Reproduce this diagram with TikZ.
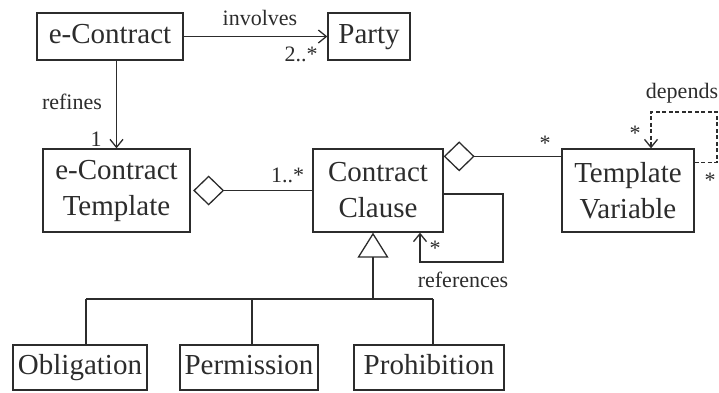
\documentclass[tikz,border=0pt]{standalone}
\usepackage{fontspec}
\setmainfont{Liberation Serif}
\usetikzlibrary{arrows.meta}
\definecolor{ink}{HTML}{2C2C2C}
\begin{document}
\begin{tikzpicture}[x=1pt,y=-1pt,color=ink,line width=1.3pt,
  cls/.style={draw,align=center,inner sep=0pt,
    font=\fontsize{29}{36}\selectfont},
  cls1/.style={cls,text height=20pt,text depth=6pt},
  lbl/.style={inner sep=0pt,font=\fontsize{22}{26}\selectfont},
  nav/.style={-{Straight Barb[length=8pt,width=13pt,line width=1.3pt]}},
  agg/.style={{Diamond[open,length=31pt,width=30pt,line width=1.3pt]}-},
  gen/.style={{Triangle[open,length=25pt,width=31pt,line width=1.3pt]}-},
  dep/.style={dash pattern=on 4pt off 2.5pt,line width=1.1pt}]
\useasboundingbox (0,0) rectangle (719,392);

% classes
\node[cls1,minimum width=146pt,minimum height=47pt] (ec)    at (110,36.5)  {e-Contract};
\node[cls1,minimum width=82pt, minimum height=47pt] (party) at (369,36.5)  {Party};
\node[cls,minimum width=147pt,minimum height=83pt] (ect)   at (116.5,190.5) {e-Contract\\Template};
\node[cls,minimum width=130pt,minimum height=83pt] (cc)    at (378,190.5) {Contract\\Clause};
\node[cls,minimum width=132pt,minimum height=83pt] (tv)    at (628,190.5) {Template\\Variable};
\node[cls1,minimum width=134pt,minimum height=45pt] (ob)    at (80,367.5)  {Obligation};
\node[cls1,minimum width=138pt,minimum height=45pt] (pe)    at (249,367.5) {Permission};
\node[cls1,minimum width=150pt,minimum height=45pt] (pr)    at (429,367.5) {Prohibition};

% e-Contract involves Party
\draw[nav] (ec.east) -- (party.west);
\node[lbl] (linv) at (260,18) {involves};
\node[lbl] (mparty) at (301,54) {2..*};

% e-Contract refines e-Contract Template
\draw[nav] (ect.north |- ec.south) -- (ect.north);
\node[lbl] (lref) at (72,102) {refines};
\node[lbl] (mone) at (96,139) {1};

% template aggregates clauses
\draw[agg,shorten <=2.5pt] (ect.east) -- (cc.west);
\node[lbl] (mcl) at (287.5,175) {1..*};

% clause aggregates template variables
\draw[agg] ([yshift=-8pt]cc.north east) -- ([yshift=-8pt]tv.north west);
\node[lbl] (mtv) at (545,143) {*};

% clause references clause
\coordinate (rA) at (503,194);
\coordinate (rB) at (420,262);
\draw[nav] (cc.east |- rA) -- (rA) |- (rB) -- (rB |- cc.south);
\node[lbl] (mrefs) at (435,248) {*};
\node[lbl] (lrefs) at (463,280) {references};

% variable depends on variable
\coordinate (dA) at (717,112);
\coordinate (dB) at (651,112);
\draw[dep,nav] ([yshift=-14pt]tv.north east) -| (dA) -- (dB) -- (dB |- tv.north);
\node[lbl] (ldep) at (682,93) {depends};
\node[lbl] (mdep1) at (635,133) {*};
\node[lbl] (mdep2) at (710,180) {*};

% generalisation of clause kinds
\coordinate (bus) at (373,299);
\coordinate (b1) at (86,299);
\coordinate (b2) at (252,299);
\coordinate (b3) at (433,299);
\draw[gen] (bus |- cc.south) -- (bus);
\draw (b1) -- (b3);
\draw (b1) -- (b1 |- ob.north);
\draw (b2) -- (b2 |- pe.north);
\draw (b3) -- (b3 |- pr.north);
\end{tikzpicture}
\end{document}
